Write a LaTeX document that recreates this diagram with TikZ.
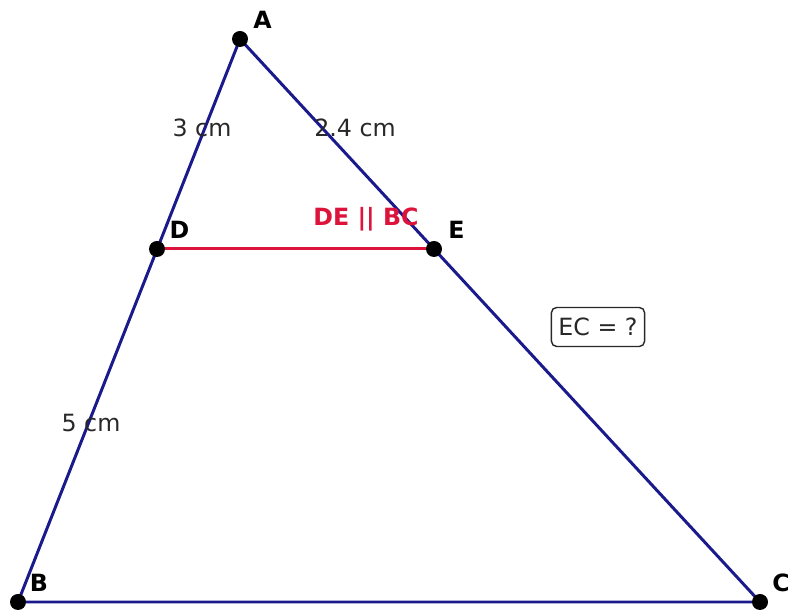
\documentclass[tikz,border=0pt]{standalone}
\usepackage{fontspec}
\setmainfont{DejaVu Sans}
\definecolor{sidecol}{RGB}{26,26,140}
\definecolor{parcol}{RGB}{220,20,60}
\definecolor{txtcol}{RGB}{40,40,40}
\begin{document}
\begin{tikzpicture}[
  side/.style={line width=1.7pt,sidecol},
  ptlabel/.style={font=\fontsize{13.5}{15}\selectfont\bfseries,inner sep=0pt},
  measure/.style={font=\fontsize{13.5}{15}\selectfont,text=txtcol,inner sep=0pt}]
  \useasboundingbox (0,0) rectangle (15.76,12.22);
  \coordinate (A) at (4.80,11.44);
  \coordinate (B) at (0.36,0.18);
  \coordinate (C) at (15.20,0.18);
  \coordinate (D) at (3.14,7.24);
  \coordinate (E) at (8.68,7.24);
  \draw[side] (A) -- (B) -- (C) -- cycle;
  \draw[line width=1.7pt,parcol] (D) -- (E);
  \fill (A) circle (0.16) node[ptlabel,xshift=0.45cm,yshift=0.39cm] {A};
  \fill (B) circle (0.16) node[ptlabel,xshift=0.42cm,yshift=0.39cm] {B};
  \fill (C) circle (0.16) node[ptlabel,xshift=0.42cm,yshift=0.39cm] {C};
  \fill (D) circle (0.16) node[ptlabel,xshift=0.45cm,yshift=0.39cm] {D};
  \fill (E) circle (0.16) node[ptlabel,xshift=0.45cm,yshift=0.39cm] {E};
  \node[measure] (ad) at (4.04,9.66) {3 cm};
  \node[measure] (ae) at (7.10,9.66) {2.4 cm};
  \node[measure] (db) at (1.82,3.76) {5 cm};
  \node[ptlabel,text=parcol] (par) at (7.32,7.84) {DE || BC};
  \node[measure,draw=txtcol,fill=white,rounded corners=3pt,line width=0.8pt,
    inner xsep=4pt,inner ysep=6pt] (ec) at (11.96,5.68) {EC = ?};
\end{tikzpicture}
\end{document}
